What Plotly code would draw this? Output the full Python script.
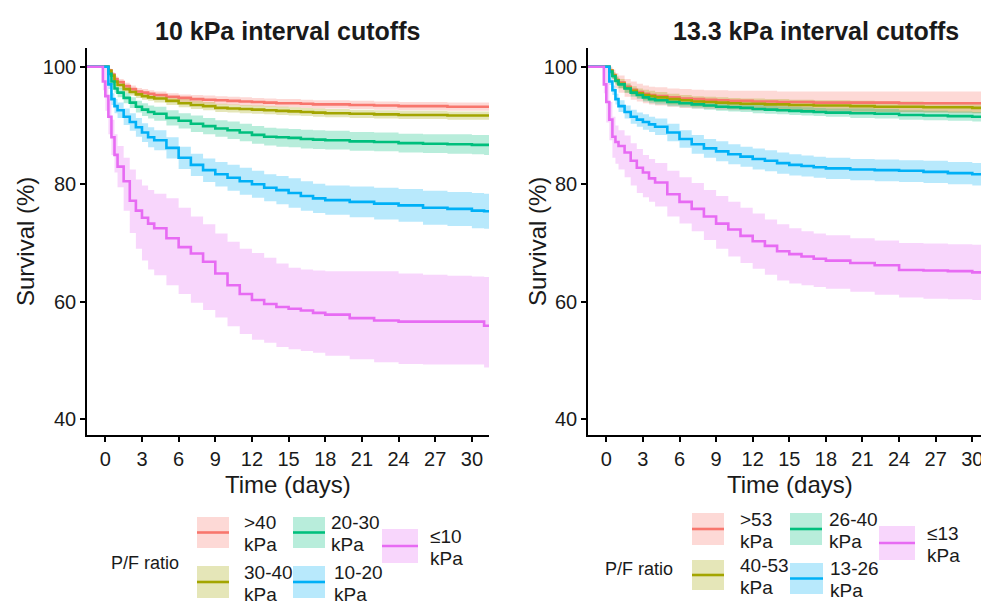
import plotly.graph_objects as go

W, H = 989, 608
OFF = 8  # page body margin offset of the figure inside the browser window
FW, FH = W - OFF, H - OFF  # figure size that fits the window after the offset

# ---------------- data ----------------
TIME = [-1.6, -0.4, -0.2, 0, 0.25, 0.5, 0.75, 1, 1.5, 2, 2.5, 3, 3.5, 4, 5, 6, 7, 8, 9, 10,
        11, 12, 13, 14, 15, 16, 17, 18, 20, 22, 24, 26, 28, 30, 31, 32]

TITLE_A = "10 kPa interval cutoffs"
TITLE_B = "13.3 kPa interval cutoffs"
LABELS_A = [">40 kPa", "30-40 kPa", "20-30 kPa", "10-20 kPa", "≤10 kPa"]
LABELS_B = [">53 kPa", "40-53 kPa", "26-40 kPa", "13-26 kPa", "≤13 kPa"]
LEGEND_TITLE = "P/F ratio"
X_TICKS = [0, 3, 6, 9, 12, 15, 18, 21, 24, 27, 30]
Y_TICKS = [40, 60, 80, 100]

# panel A (10 kPa cutoffs): survival, lower CI, upper CI
A_GT40_S = [100, 100, 100, 100, 99.4, 98.7, 97.9, 97.4, 96.7, 96.2, 95.8, 95.6, 95.4, 95.2, 94.9, 94.7, 94.5, 94.4,
            94.3, 94.2, 94.1, 94.0, 93.9, 93.8, 93.8, 93.7, 93.6, 93.6, 93.5, 93.4, 93.3, 93.3, 93.2, 93.2, 93.2, 93.2]
A_GT40_L = [100, 100, 100, 100, 99.1, 98.3, 97.4, 96.9, 96.1, 95.6, 95.2, 94.9, 94.7, 94.5, 94.2, 94.0, 93.8, 93.7,
            93.6, 93.5, 93.4, 93.3, 93.2, 93.1, 93.1, 93.0, 92.9, 92.9, 92.8, 92.7, 92.6, 92.6, 92.5, 92.5, 92.5, 92.5]
A_GT40_U = [100, 100, 100, 100, 99.7, 99.1, 98.4, 97.9, 97.3, 96.8, 96.4, 96.2, 96.0, 95.8, 95.5, 95.3, 95.2, 95.1,
            95.0, 94.9, 94.8, 94.7, 94.6, 94.5, 94.5, 94.4, 94.3, 94.3, 94.2, 94.1, 94.0, 94.0, 93.9, 93.9, 93.9, 93.9]

A_3040_S = [100, 100, 100, 100, 99.3, 98.5, 97.5, 96.9, 96.2, 95.7, 95.3, 95.0, 94.8, 94.6, 94.2, 93.8, 93.5, 93.3,
            93.0, 92.9, 92.8, 92.7, 92.6, 92.5, 92.4, 92.3, 92.2, 92.1, 92.0, 91.9, 91.8, 91.8, 91.7, 91.7, 91.7, 91.7]
A_3040_L = [100, 100, 100, 100, 99.0, 98.1, 97.0, 96.3, 95.6, 95.1, 94.7, 94.4, 94.2, 93.9, 93.5, 93.1, 92.8, 92.6,
            92.3, 92.2, 92.1, 92.0, 91.9, 91.8, 91.7, 91.6, 91.5, 91.4, 91.3, 91.2, 91.1, 91.1, 91.0, 91.0, 91.0, 91.0]
A_3040_U = [100, 100, 100, 100, 99.6, 98.9, 98.0, 97.5, 96.8, 96.3, 95.9, 95.6, 95.4, 95.3, 94.9, 94.5, 94.2, 94.0,
            93.7, 93.6, 93.5, 93.4, 93.3, 93.2, 93.1, 93.0, 92.9, 92.8, 92.7, 92.6, 92.5, 92.5, 92.4, 92.4, 92.4, 92.4]

A_2030_S = [100, 100, 100, 100, 98.8, 97.5, 96.3, 95.6, 94.7, 93.9, 93.2, 92.7, 92.3, 92.0, 91.3, 90.8, 90.3, 89.9,
            89.5, 89.2, 88.8, 88.4, 88.1, 88.0, 87.9, 87.7, 87.6, 87.5, 87.3, 87.2, 87.0, 86.9, 86.8, 86.7, 86.7, 86.7]
A_2030_L = [100, 100, 100, 100, 98.3, 96.9, 95.6, 94.8, 93.8, 93.0, 92.2, 91.6, 91.2, 90.8, 90.0, 89.5, 88.9, 88.5,
            88.1, 87.7, 87.3, 86.9, 86.6, 86.4, 86.3, 86.1, 86.0, 85.9, 85.7, 85.6, 85.4, 85.3, 85.2, 85.1, 85.0, 85.0]
A_2030_U = [100, 100, 100, 100, 99.3, 98.1, 97.0, 96.4, 95.6, 94.8, 94.2, 93.8, 93.4, 93.2, 92.6, 92.1, 91.7, 91.3,
            90.9, 90.7, 90.3, 89.9, 89.6, 89.5, 89.4, 89.3, 89.2, 89.1, 88.9, 88.8, 88.6, 88.5, 88.5, 88.4, 88.4, 88.4]

A_1020_S = [100, 100, 100, 100, 97.0, 94.5, 93.3, 92.6, 91.5, 90.6, 89.7, 88.8, 88.0, 87.5, 86.2, 84.5, 83.3, 82.4,
            81.7, 81.1, 80.5, 80.0, 79.4, 79.0, 78.5, 78.0, 77.6, 77.3, 77.0, 76.7, 76.4, 76.0, 75.8, 75.5, 75.4, 75.4]
A_1020_L = [100, 100, 100, 100, 96.2, 93.5, 92.1, 91.3, 90.1, 89.1, 88.1, 87.2, 86.3, 85.8, 84.4, 82.6, 81.4, 80.4,
            79.6, 78.9, 78.2, 77.7, 77.1, 76.6, 76.0, 75.5, 75.1, 74.8, 74.4, 74.0, 73.6, 73.1, 72.9, 72.5, 72.4, 72.4]
A_1020_U = [100, 100, 100, 100, 97.8, 95.5, 94.5, 93.9, 92.9, 92.1, 91.3, 90.4, 89.7, 89.2, 88.0, 86.4, 85.2, 84.4,
            83.8, 83.3, 82.8, 82.3, 81.7, 81.4, 81.0, 80.5, 80.1, 79.8, 79.6, 79.4, 79.2, 78.9, 78.7, 78.5, 78.4, 78.4]

A_LE10_S = [100, 100, 97.5, 95.0, 91.5, 88.0, 85.0, 83.0, 80.5, 77.2, 75.5, 74.3, 73.3, 72.5, 70.8, 69.3, 68.2, 66.8,
            64.8, 62.8, 61.3, 60.3, 59.6, 59.1, 58.8, 58.5, 58.1, 57.8, 57.2, 56.8, 56.6, 56.6, 56.6, 56.6, 55.9, 55.9]
A_LE10_L = [100, 100, 96.0, 92.5, 88.5, 85.0, 82.0, 79.5, 75.5, 71.7, 69.0, 67.0, 65.5, 64.5, 62.8, 61.3, 59.8, 58.6,
            57.3, 55.8, 54.5, 53.5, 53.0, 52.3, 51.9, 51.6, 51.3, 50.8, 50.2, 49.7, 49.4, 49.3, 49.3, 49.3, 48.8, 48.8]
A_LE10_U = [100, 100, 100, 100, 94.5, 91.0, 88.5, 86.5, 84.5, 82.5, 80.8, 79.8, 79.0, 78.4, 77.6, 76.0, 74.5, 73.2,
            71.6, 70.2, 69.0, 68.3, 67.5, 66.5, 65.8, 65.5, 65.3, 65.2, 65.2, 65.2, 64.8, 64.6, 64.4, 64.3, 64.2, 64.2]

# panel B (13.3 kPa cutoffs)
B_GT53_S = [100, 100, 100, 100, 99.4, 98.6, 97.8, 97.3, 96.6, 96.1, 95.7, 95.4, 95.2, 95.0, 94.8, 94.6, 94.5, 94.4,
            94.3, 94.2, 94.2, 94.1, 94.1, 94.0, 94.0, 94.0, 93.9, 93.9, 93.9, 93.9, 93.8, 93.8, 93.8, 93.8, 93.8, 93.8]
B_GT53_L = [100, 100, 100, 100, 98.6, 97.4, 96.3, 95.6, 94.9, 94.4, 94.1, 93.8, 93.6, 93.4, 93.2, 93.0, 92.9, 92.8,
            92.7, 92.6, 92.6, 92.5, 92.5, 92.4, 92.4, 92.4, 92.3, 92.3, 92.3, 92.3, 92.2, 92.2, 92.1, 92.1, 92.1, 92.1]
B_GT53_U = [100, 100, 100, 100, 100, 99.5, 98.9, 98.5, 97.9, 97.5, 97.1, 96.8, 96.6, 96.5, 96.3, 96.2, 96.1, 96.0,
            96.0, 95.9, 95.9, 95.9, 95.9, 95.8, 95.8, 95.8, 95.8, 95.8, 95.8, 95.8, 95.8, 95.8, 95.8, 95.8, 95.8, 95.8]

B_4053_S = [100, 100, 100, 100, 99.3, 98.5, 97.7, 97.1, 96.4, 95.9, 95.5, 95.2, 95.0, 94.8, 94.5, 94.3, 94.1, 94.0,
            93.9, 93.8, 93.7, 93.7, 93.6, 93.6, 93.5, 93.5, 93.4, 93.4, 93.3, 93.2, 93.2, 93.1, 93.1, 93.0, 93.0, 93.0]
B_4053_L = [100, 100, 100, 100, 98.9, 97.9, 97.0, 96.3, 95.6, 95.1, 94.7, 94.3, 94.1, 93.9, 93.6, 93.4, 93.2, 93.1,
            93.0, 92.9, 92.8, 92.8, 92.7, 92.7, 92.6, 92.6, 92.5, 92.5, 92.4, 92.3, 92.3, 92.2, 92.2, 92.1, 92.1, 92.1]
B_4053_U = [100, 100, 100, 100, 99.7, 99.1, 98.4, 97.9, 97.2, 96.7, 96.3, 96.1, 95.9, 95.7, 95.4, 95.2, 95.0, 94.9,
            94.8, 94.7, 94.6, 94.6, 94.5, 94.5, 94.4, 94.4, 94.3, 94.3, 94.2, 94.1, 94.1, 94.0, 94.0, 93.9, 93.9, 93.9]

B_2640_S = [100, 100, 100, 100, 99.2, 98.4, 97.6, 97.0, 96.3, 95.6, 95.2, 94.8, 94.5, 94.3, 94.0, 93.8, 93.6, 93.4,
            93.2, 93.1, 93.0, 92.8, 92.7, 92.6, 92.5, 92.4, 92.3, 92.2, 92.1, 92.0, 91.8, 91.7, 91.6, 91.5, 91.4, 91.4]
B_2640_L = [100, 100, 100, 100, 98.8, 97.9, 97.0, 96.4, 95.6, 94.9, 94.5, 94.1, 93.8, 93.6, 93.3, 93.1, 92.9, 92.7,
            92.5, 92.4, 92.3, 92.1, 92.0, 91.9, 91.8, 91.7, 91.6, 91.5, 91.3, 91.2, 91.0, 90.9, 90.8, 90.7, 90.6, 90.6]
B_2640_U = [100, 100, 100, 100, 99.6, 98.9, 98.2, 97.6, 97.0, 96.3, 95.9, 95.5, 95.2, 95.0, 94.7, 94.5, 94.3, 94.1,
            93.9, 93.8, 93.7, 93.5, 93.4, 93.3, 93.2, 93.1, 93.0, 92.9, 92.9, 92.8, 92.6, 92.5, 92.4, 92.3, 92.2, 92.2]

B_1326_S = [100, 100, 100, 100, 97.5, 96.0, 94.5, 93.3, 92.3, 91.5, 91.0, 90.6, 90.2, 89.8, 88.8, 87.7, 86.8, 86.1,
            85.6, 85.1, 84.7, 84.3, 84.0, 83.6, 83.3, 83.1, 82.9, 82.7, 82.5, 82.4, 82.3, 82.1, 81.9, 81.7, 81.6, 81.6]
B_1326_L = [100, 100, 100, 100, 96.9, 95.2, 93.6, 92.3, 91.2, 90.3, 89.8, 89.3, 88.9, 88.4, 87.3, 86.2, 85.2, 84.5,
            83.9, 83.4, 83.0, 82.5, 82.2, 81.8, 81.5, 81.3, 81.1, 80.9, 80.7, 80.5, 80.4, 80.2, 80.0, 79.8, 79.7, 79.7]
B_1326_U = [100, 100, 100, 100, 98.1, 96.8, 95.4, 94.3, 93.4, 92.7, 92.2, 91.9, 91.5, 91.2, 90.3, 89.2, 88.4, 87.7,
            87.3, 86.8, 86.4, 86.1, 85.8, 85.4, 85.1, 84.9, 84.7, 84.5, 84.3, 84.2, 84.1, 84.0, 83.8, 83.6, 83.5, 83.5]

B_LE13_S = [100, 100, 97.0, 94.0, 91.0, 88.1, 87.2, 86.5, 85.4, 84.0, 82.8, 82.0, 81.0, 80.3, 78.3, 77.0, 75.8, 74.5,
            73.3, 72.3, 71.2, 70.3, 69.5, 68.6, 68.1, 67.7, 67.3, 67.0, 66.6, 66.2, 65.4, 65.3, 65.2, 65.0, 64.9, 64.9]
B_LE13_L = [100, 100, 95.5, 90.5, 87.5, 84.5, 83.5, 82.5, 81.2, 79.8, 78.5, 77.8, 77.0, 76.2, 74.5, 73.3, 72.0, 70.5,
            69.0, 67.7, 66.6, 65.6, 64.6, 63.6, 63.1, 62.8, 62.5, 62.2, 61.7, 61.2, 60.7, 60.5, 60.4, 60.3, 60.2, 60.2]
B_LE13_U = [100, 100, 100, 100, 94.0, 91.5, 90.0, 89.2, 88.3, 87.0, 86.0, 85.0, 84.3, 83.6, 82.3, 81.2, 80.2, 79.0,
            78.0, 77.0, 76.0, 75.0, 74.0, 73.2, 72.5, 72.0, 71.6, 71.3, 70.8, 70.4, 70.0, 69.9, 69.8, 69.7, 69.7, 69.7]

COLORS = ["#F8766D", "#A3A500", "#00BF7D", "#00B0F6", "#E76BF3"]

PANEL_A = [(A_GT40_S, A_GT40_L, A_GT40_U), (A_3040_S, A_3040_L, A_3040_U), (A_2030_S, A_2030_L, A_2030_U),
           (A_1020_S, A_1020_L, A_1020_U), (A_LE10_S, A_LE10_L, A_LE10_U)]
PANEL_B = [(B_GT53_S, B_GT53_L, B_GT53_U), (B_4053_S, B_4053_L, B_4053_U), (B_2640_S, B_2640_L, B_2640_U),
           (B_1326_S, B_1326_L, B_1326_U), (B_LE13_S, B_LE13_L, B_LE13_U)]

# ---------------- styling ----------------
FONT = "Liberation Sans, Arial, sans-serif"
INK = "#1a1a1a"


def rgba(hex_color, a):
    h = hex_color.lstrip("#")
    r, g, b = int(h[0:2], 16), int(h[2:4], 16), int(h[4:6], 16)
    return f"rgba({r},{g},{b},{a})"


def fx(p):
    return (p - OFF) / FW


def fy(p):
    return 1 - (p - OFF) / FH


fig = go.Figure()

for panel, xa, ya, labels in [(PANEL_A, "x", "y", LABELS_A), (PANEL_B, "x2", "y2", LABELS_B)]:
    for (s, lo, hi), col, lab in zip(panel, COLORS, labels):
        fig.add_trace(go.Scatter(x=TIME, y=lo, xaxis=xa, yaxis=ya, mode="lines",
                                 line=dict(width=0, shape="hv", color=col),
                                 hoverinfo="skip", showlegend=False))
        fig.add_trace(go.Scatter(x=TIME, y=hi, xaxis=xa, yaxis=ya, mode="lines",
                                 line=dict(width=0, shape="hv", color=col),
                                 fill="tonexty", fillcolor=rgba(col, 0.28),
                                 hoverinfo="skip", showlegend=False))
    for (s, lo, hi), col, lab in zip(panel, COLORS, labels):
        fig.add_trace(go.Scatter(x=TIME, y=s, xaxis=xa, yaxis=ya, mode="lines", name=lab,
                                 line=dict(width=2.6, shape="hv", color=col), showlegend=False))

axis_common = dict(showline=True, linecolor="black", linewidth=1.6, ticks="outside", automargin=False,
                   ticklen=5, tickwidth=1.5, tickcolor="black", showgrid=False, zeroline=False,
                   tickfont=dict(family=FONT, size=20, color=INK))

YDOM = [fy(435), fy(48)]
fig.update_layout(
    width=FW, height=FH, margin=dict(l=0, r=0, t=0, b=0, autoexpand=False),
    paper_bgcolor="white", plot_bgcolor="white", showlegend=False,
    xaxis=dict(domain=[fx(87), fx(489)], range=[-1.5, 31.4], tickvals=X_TICKS, anchor="y", **axis_common),
    yaxis=dict(domain=YDOM, range=[37.3, 103.2], tickvals=Y_TICKS, anchor="x", **axis_common),
    xaxis2=dict(domain=[fx(588), 1.0], range=[-1.5, 31.37], tickvals=X_TICKS, anchor="y2", **axis_common),
    yaxis2=dict(domain=YDOM, range=[37.3, 103.2], tickvals=Y_TICKS, anchor="x2", **axis_common),
)

ann = []
shapes = []


def text(x, y, t, size, bold=False, angle=0, xanchor="center"):
    ann.append(dict(x=fx(x), y=fy(y), xref="paper", yref="paper", text=f"<b>{t}</b>" if bold else t,
                    showarrow=False, textangle=angle, xanchor=xanchor, yanchor="middle",
                    font=dict(family=FONT, size=size, color=INK)))


# titles and axis titles
text(287, 31, TITLE_A, 25, bold=True)
text(816, 31, TITLE_B, 25, bold=True)
text(288, 484, "Time (days)", 24)
text(790, 484, "Time (days)", 24)
text(25, 242, "Survival (%)", 24, angle=-90)
text(537, 242, "Survival (%)", 24, angle=-90)

# legends (key boxes, key lines, two-line labels)
LEG_A = dict(title=(145, 563), keys=[(197, 229, 517, 548), (197, 229, 566, 598), (293, 325, 517, 548),
                                     (293, 325, 566, 598), (382, 418, 529, 563)],
             lx=[242, 242, 329, 332, 428])
LEG_B = dict(title=(639, 569), keys=[(692, 724, 513, 545), (692, 724, 560, 590), (790, 822, 513, 545),
                                     (790, 823, 563, 594), (879, 915, 526, 560)],
             lx=[738, 738, 827, 828, 925])

for leg, labels in [(LEG_A, LABELS_A), (LEG_B, LABELS_B)]:
    text(leg["title"][0], leg["title"][1], LEGEND_TITLE, 18)
    for (x0, x1, y0, y1), col, lab, lx in zip(leg["keys"], COLORS, labels, leg["lx"]):
        shapes.append(dict(type="rect", xref="paper", yref="paper", x0=fx(x0), x1=fx(x1), y0=fy(y1), y1=fy(y0),
                           fillcolor=rgba(col, 0.28), line=dict(width=0), layer="above"))
        ym = (y0 + y1) / 2
        shapes.append(dict(type="line", xref="paper", yref="paper", x0=fx(x0), x1=fx(x1), y0=fy(ym), y1=fy(ym),
                           line=dict(color=col, width=2.6), layer="above"))
        first, second = lab.split(" ")
        text(lx, ym - 10, first, 19, xanchor="left")
        text(lx, ym + 12, second, 19, xanchor="left")

fig.update_layout(annotations=ann, shapes=shapes)
fig.write_html("out.html")
